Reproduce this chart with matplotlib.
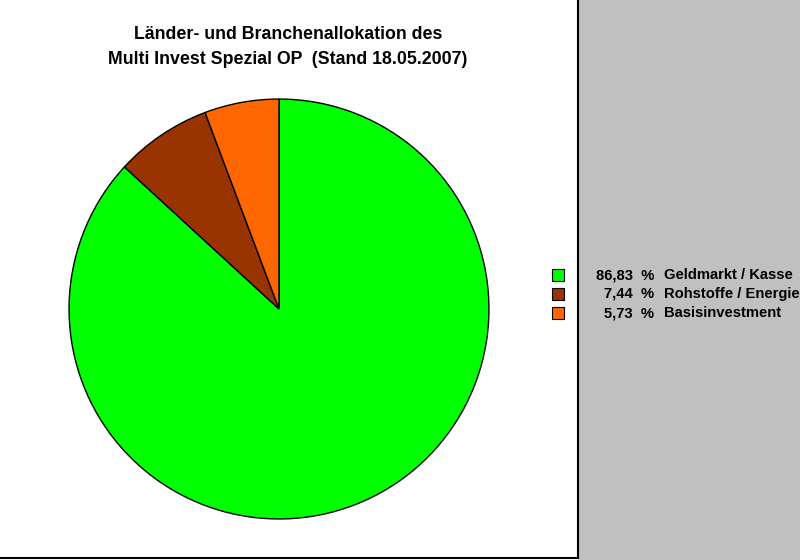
import matplotlib
matplotlib.use("Agg")
import matplotlib.pyplot as plt
from matplotlib.patches import Rectangle
from matplotlib.lines import Line2D

plt.rcParams['font.family'] = ['Liberation Sans', 'DejaVu Sans']

categories = ["Geldmarkt / Kasse", "Rohstoffe / Energie", "Basisinvestment"]
values = [86.83, 7.44, 5.73]
value_labels = ["86,83", "7,44", "5,73"]
colors = ["#00FF00", "#993300", "#FF6600"]
title = "Länder- und Branchenallokation des\nMulti Invest Spezial OP  (Stand 18.05.2007)"

W, H = 800, 560
fig = plt.figure(figsize=(W / 100, H / 100), dpi=100)
fig.patch.set_facecolor("white")

def fx(px):
    return px / W

def fy(py):
    return 1 - py / H

# gray panel on the right
fig.patches.append(Rectangle((fx(579), 0), 1 - fx(579), 1, transform=fig.transFigure,
                             facecolor="#C0C0C0", edgecolor="none", zorder=0))
# black frame lines
fig.lines.append(Line2D([fx(578), fx(578)], [fy(0), fy(558)], transform=fig.transFigure,
                        color="black", lw=1.5))
fig.lines.append(Line2D([0, fx(578)], [fy(558), fy(558)], transform=fig.transFigure,
                        color="black", lw=1.5))

# pie
cx, cy, r = 279, 309, 211
ax = fig.add_axes([fx(cx - r), fy(cy + r), 2 * r / W, 2 * r / H])
ax.pie(values, colors=colors, startangle=90, counterclock=False, radius=1,
       wedgeprops=dict(edgecolor="black", linewidth=1.0))
ax.set_xlim(-1.005, 1.005)
ax.set_ylim(-1.005, 1.005)
ax.set_aspect("equal")
ax.axis("off")

# title
fig.text(fx(288), fy(47), title, ha="center", va="center", fontsize=12.8,
         fontweight="bold", linespacing=1.55)

# legend
ys = [275, 294, 313]
for y, c, v, lab in zip(ys, colors, value_labels, categories):
    fig.patches.append(Rectangle((fx(552), fy(y + 6)), 12 / W, 12 / H,
                                 transform=fig.transFigure, facecolor=c,
                                 edgecolor="black", lw=0.8, zorder=3))
    fig.text(fx(654), fy(y), v + "  %", ha="right", va="center", fontsize=10.6,
             fontweight="bold")
    fig.text(fx(664), fy(y), lab, ha="left", va="center", fontsize=10.6,
             fontweight="bold")

fig.savefig("out.png", dpi=100)
